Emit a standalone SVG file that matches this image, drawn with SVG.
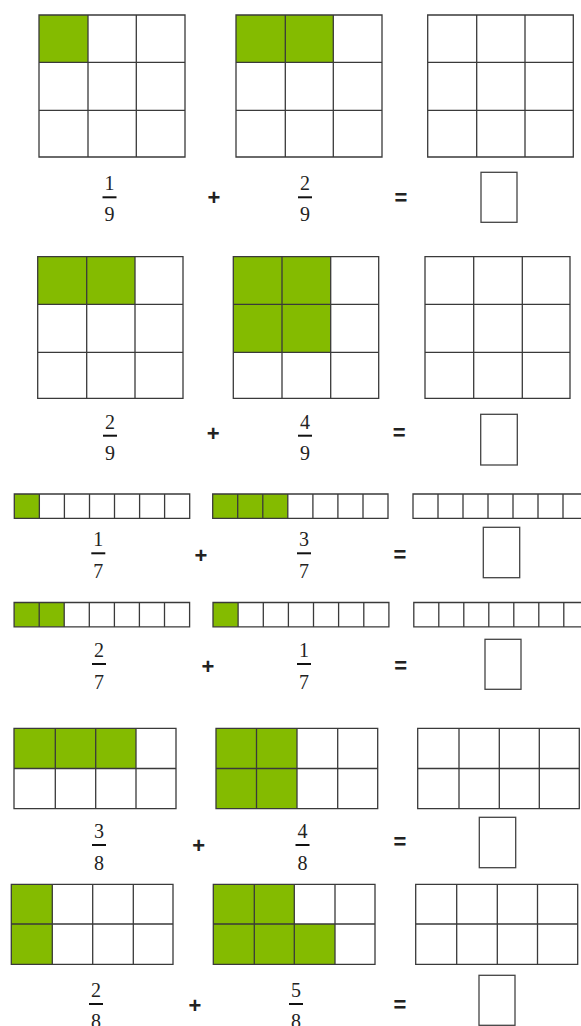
<svg xmlns="http://www.w3.org/2000/svg" width="581" height="1026" viewBox="0 0 581 1026">
<style>
.g{fill:#84bb00}
.ln{fill:none;stroke:#3a3a3a;stroke-width:1.3}
.bx{fill:#fff;stroke:#444;stroke-width:1.3}
.num{font-family:"Liberation Serif","Times New Roman",serif;font-size:20px;fill:#222;text-anchor:middle}
.op{font-family:"Liberation Sans",Arial,sans-serif;font-size:22px;font-weight:bold;fill:#222;text-anchor:middle}
.fb{stroke:#111;stroke-width:2}
</style>
<rect width="581" height="1026" fill="#fff"/>

<!-- Row 1 -->
<g id="r1-a">
<rect class="g" x="39" y="15" width="49" height="47.3"/>
<path class="ln" d="M39,15H185V157H39Z M88,15V157 M136.3,15V157 M39,62.3H185 M39,110.3H185"/>
</g>
<g id="r1-b">
<rect class="g" x="236" y="15" width="97.3" height="47.3"/>
<path class="ln" d="M236,15H382V157H236Z M285.3,15V157 M333.3,15V157 M236,62.3H382 M236,110.3H382"/>
</g>
<g id="r1-c">
<path class="ln" d="M427.7,15H573.3V157H427.7Z M476.7,15V157 M525,15V157 M427.7,62.3H573.3 M427.7,110.3H573.3"/>
</g>
<g id="r1-eq">
<text class="num" x="109.5" y="190">1</text><line class="fb" x1="102.5" y1="197.3" x2="116.5" y2="197.3"/><text class="num" x="109.5" y="220.5">9</text>
<text class="op" x="214" y="205">+</text>
<text class="num" x="305" y="190">2</text><line class="fb" x1="298" y1="197.3" x2="312" y2="197.3"/><text class="num" x="305" y="220.5">9</text>
<text class="op" x="401" y="205">=</text>
<rect class="bx" x="481" y="172.3" width="36" height="50"/>
</g>

<!-- Row 2 -->
<g id="r2-a">
<rect class="g" x="37.7" y="256.7" width="97.3" height="47.6"/>
<path class="ln" d="M37.7,256.7H183V398.3H37.7Z M86.7,256.7V398.3 M135,256.7V398.3 M37.7,304.3H183 M37.7,352.3H183"/>
</g>
<g id="r2-b">
<rect class="g" x="233.3" y="256.7" width="97.4" height="95.6"/>
<path class="ln" d="M233.3,256.7H378.7V398.3H233.3Z M282,256.7V398.3 M330.7,256.7V398.3 M233.3,304.3H378.7 M233.3,352.3H378.7"/>
</g>
<g id="r2-c">
<path class="ln" d="M425,256.7H570V398.3H425Z M473.7,256.7V398.3 M522.3,256.7V398.3 M425,304.3H570 M425,352.3H570"/>
</g>
<g id="r2-eq">
<text class="num" x="110" y="428.5">2</text><line class="fb" x1="103" y1="435.7" x2="117" y2="435.7"/><text class="num" x="110" y="459.5">9</text>
<text class="op" x="213.3" y="440.5">+</text>
<text class="num" x="305" y="428.5">4</text><line class="fb" x1="298" y1="435.7" x2="312" y2="435.7"/><text class="num" x="305" y="459.5">9</text>
<text class="op" x="399.3" y="439.5">=</text>
<rect class="bx" x="480.7" y="414.3" width="36.6" height="50.7"/>
</g>

<!-- Row 3 -->
<g id="r3-a">
<rect class="g" x="14.3" y="494" width="25.06" height="24.3"/>
<path class="ln" d="M14.3,494H189.7V518.3H14.3Z M39.36,494V518.3 M64.4,494V518.3 M89.5,494V518.3 M114.5,494V518.3 M139.6,494V518.3 M164.6,494V518.3"/>
</g>
<g id="r3-b">
<rect class="g" x="212.7" y="494" width="75.1" height="24.3"/>
<path class="ln" d="M212.7,494H388V518.3H212.7Z M237.7,494V518.3 M262.8,494V518.3 M287.8,494V518.3 M312.9,494V518.3 M337.9,494V518.3 M363,494V518.3"/>
</g>
<g id="r3-c">
<path class="ln" d="M413,494H588V518.3H413Z M438,494V518.3 M463,494V518.3 M488,494V518.3 M513,494V518.3 M538,494V518.3 M563,494V518.3"/>
</g>
<g id="r3-eq">
<text class="num" x="98.3" y="545.5">1</text><line class="fb" x1="91.3" y1="553.3" x2="105.3" y2="553.3"/><text class="num" x="98.3" y="577.5">7</text>
<text class="op" x="201" y="563">+</text>
<text class="num" x="304" y="545.5">3</text><line class="fb" x1="297" y1="553.3" x2="311" y2="553.3"/><text class="num" x="304" y="577.5">7</text>
<text class="op" x="400" y="562">=</text>
<rect class="bx" x="483.3" y="527.3" width="36.4" height="50.4"/>
</g>

<!-- Row 4 -->
<g id="r4-a">
<rect class="g" x="14.1" y="602.5" width="50.1" height="24.3"/>
<path class="ln" d="M14.1,602.5H189.6V626.8H14.1Z M39.2,602.5V626.8 M64.2,602.5V626.8 M89.3,602.5V626.8 M114.4,602.5V626.8 M139.4,602.5V626.8 M164.5,602.5V626.8"/>
</g>
<g id="r4-b">
<rect class="g" x="213" y="602.5" width="25.1" height="24.3"/>
<path class="ln" d="M213,602.5H388.9V626.8H213Z M238.1,602.5V626.8 M263.3,602.5V626.8 M288.4,602.5V626.8 M313.5,602.5V626.8 M338.6,602.5V626.8 M363.8,602.5V626.8"/>
</g>
<g id="r4-c">
<path class="ln" d="M413.8,602.5H589V626.8H413.8Z M438.8,602.5V626.8 M463.8,602.5V626.8 M488.8,602.5V626.8 M513.8,602.5V626.8 M538.8,602.5V626.8 M563.8,602.5V626.8"/>
</g>
<g id="r4-eq">
<text class="num" x="99" y="656.5">2</text><line class="fb" x1="92" y1="664" x2="106" y2="664"/><text class="num" x="99" y="688.5">7</text>
<text class="op" x="208" y="674">+</text>
<text class="num" x="304" y="656.5">1</text><line class="fb" x1="297" y1="664" x2="311" y2="664"/><text class="num" x="304" y="688.5">7</text>
<text class="op" x="400.7" y="673">=</text>
<rect class="bx" x="485" y="639.3" width="36" height="50"/>
</g>

<!-- Row 5 -->
<g id="r5-a">
<rect class="g" x="14" y="728.3" width="122" height="40.2"/>
<path class="ln" d="M14,728.3H176V808.7H14Z M55.3,728.3V808.7 M95.7,728.3V808.7 M136,728.3V808.7 M14,768.5H176"/>
</g>
<g id="r5-b">
<rect class="g" x="216" y="728.3" width="81" height="80.4"/>
<path class="ln" d="M216,728.3H377.7V808.7H216Z M256.5,728.3V808.7 M297,728.3V808.7 M337.7,728.3V808.7 M216,768.5H377.7"/>
</g>
<g id="r5-c">
<path class="ln" d="M417.7,728.3H579.3V808.7H417.7Z M459,728.3V808.7 M499.3,728.3V808.7 M539.3,728.3V808.7 M417.7,768.5H579.3"/>
</g>
<g id="r5-eq">
<text class="num" x="99" y="838">3</text><line class="fb" x1="92" y1="845" x2="106" y2="845"/><text class="num" x="99" y="869.5">8</text>
<text class="op" x="198.7" y="853">+</text>
<text class="num" x="302.5" y="838">4</text><line class="fb" x1="295.5" y1="845" x2="309.5" y2="845"/><text class="num" x="302.5" y="869.5">8</text>
<text class="op" x="400" y="848.5">=</text>
<rect class="bx" x="479.3" y="817.3" width="36.4" height="50.4"/>
</g>

<!-- Row 6 -->
<g id="r6-a">
<rect class="g" x="11.3" y="884.3" width="41" height="80"/>
<path class="ln" d="M11.3,884.3H173V964.3H11.3Z M52.3,884.3V964.3 M92.7,884.3V964.3 M133.3,884.3V964.3 M11.3,924H173"/>
</g>
<g id="r6-b">
<rect class="g" x="213.3" y="884.3" width="81" height="39.7"/>
<rect class="g" x="213.3" y="924" width="121.7" height="40.3"/>
<path class="ln" d="M213.3,884.3H375V964.3H213.3Z M254.3,884.3V964.3 M294.3,884.3V964.3 M335,884.3V964.3 M213.3,924H375"/>
</g>
<g id="r6-c">
<path class="ln" d="M415.7,884.3H577.7V964.3H415.7Z M456.7,884.3V964.3 M497.3,884.3V964.3 M537.5,884.3V964.3 M415.7,924H577.7"/>
</g>
<g id="r6-eq">
<text class="num" x="96" y="997">2</text><line class="fb" x1="89" y1="1004" x2="103" y2="1004"/><text class="num" x="96" y="1028">8</text>
<text class="op" x="195" y="1013">+</text>
<text class="num" x="296" y="997">5</text><line class="fb" x1="289" y1="1004" x2="303" y2="1004"/><text class="num" x="296" y="1028">8</text>
<text class="op" x="400" y="1012">=</text>
<rect class="bx" x="479" y="975.3" width="36" height="50"/>
</g>
</svg>
